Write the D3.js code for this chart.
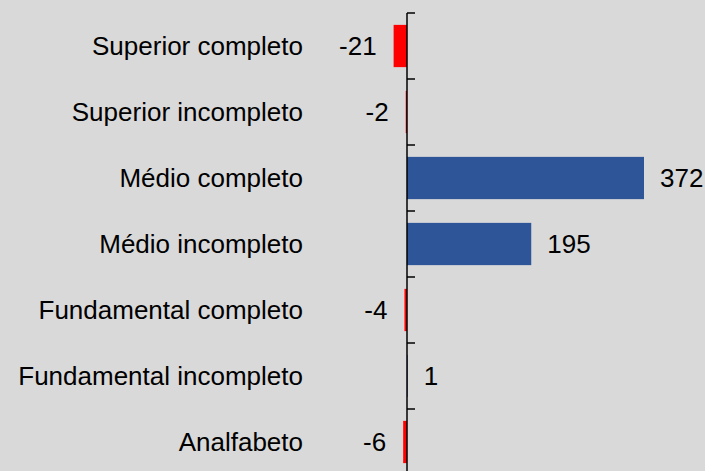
<!DOCTYPE html>
<html>
<head>
<meta charset="utf-8">
<script src="https://cdn.jsdelivr.net/npm/d3@7"></script>
<style>
  body { margin: 0; background: #d9d9d9; }
  svg { display: block; font-family: "Liberation Sans", Arial, sans-serif; }
</style>
</head>
<body>
<svg id="chart"></svg>
<script>
// Escolaridade - saldo
const categories = ["Superior completo", "Superior incompleto", "Médio completo", "Médio incompleto",
                    "Fundamental completo", "Fundamental incompleto", "Analfabeto"];
const values = [-21, -2, 372, 195, -4, 1, -6];

const width = 705, height = 471;
const axisX = 407;

const svg = d3.select("#chart")
  .attr("width", width)
  .attr("height", height);

svg.append("rect").attr("width", width).attr("height", height).attr("fill", "#d9d9d9");

// scales
const x = d3.scaleLinear().domain([0, 372]).range([axisX, 644]);
const y = d3.scaleBand().domain(categories).range([13, 475])
  .paddingInner(0.36).paddingOuter(0.18);

const data = categories.map((c, i) => ({ cat: c, val: values[i] }));

// bars
svg.selectAll(".bar")
  .data(data)
  .enter()
  .append("rect")
  .attr("class", "bar")
  .attr("x", d => Math.min(x(0), x(d.val)))
  .attr("y", d => y(d.cat))
  .attr("width", d => Math.abs(x(d.val) - x(0)))
  .attr("height", y.bandwidth())
  .attr("fill", d => d.val < 0 ? "#ff0000" : "#2e5597");

// axis line + ticks between categories
svg.append("line")
  .attr("x1", x(0)).attr("x2", x(0))
  .attr("y1", y.range()[0]).attr("y2", height)
  .attr("stroke", "#000").attr("stroke-width", 1.5);

const tickY = categories.map(c => y(c) - y.step() * y.paddingInner() / 2)
  .concat([y(categories[categories.length - 1]) + y.bandwidth() + y.step() * y.paddingInner() / 2]);

svg.selectAll(".tick")
  .data(tickY)
  .enter()
  .append("line")
  .attr("class", "tick")
  .attr("x1", x(0)).attr("x2", x(0) + 8)
  .attr("y1", d => d).attr("y2", d => d)
  .attr("stroke", "#000").attr("stroke-width", 1.5);

// category labels
svg.selectAll(".cat")
  .data(data)
  .enter()
  .append("text")
  .attr("class", "cat")
  .attr("x", 303)
  .attr("y", d => y(d.cat) + y.bandwidth() / 2)
  .attr("dy", "0.35em")
  .attr("text-anchor", "end")
  .style("font-size", "26px")
  .attr("fill", "#000")
  .text(d => d.cat);

// value labels
svg.selectAll(".val")
  .data(data)
  .enter()
  .append("text")
  .attr("class", "val")
  .attr("x", d => d.val < 0 ? x(d.val) - 17 : x(d.val) + 16)
  .attr("y", d => y(d.cat) + y.bandwidth() / 2)
  .attr("dy", "0.35em")
  .attr("text-anchor", d => d.val < 0 ? "end" : "start")
  .style("font-size", "26px")
  .attr("fill", "#000")
  .text(d => d.val);
</script>
</body>
</html>
